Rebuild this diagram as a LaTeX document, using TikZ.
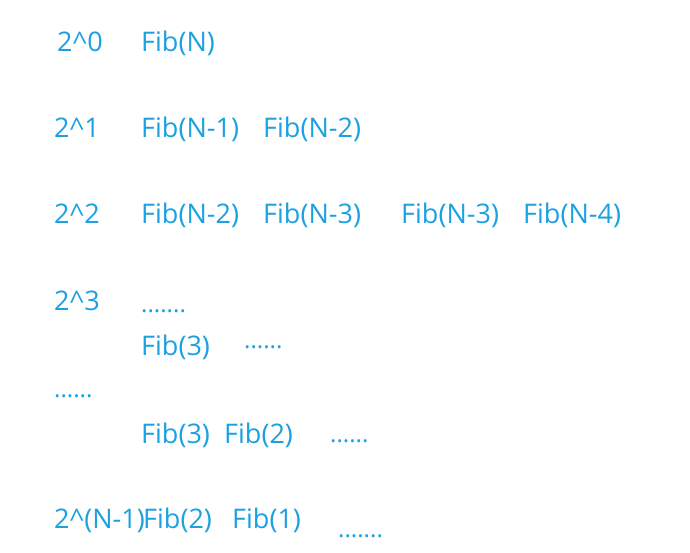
\documentclass[tikz,border=0pt]{standalone}
\usepackage{fontspec}
\setmainfont{Open Sans}
\definecolor{fibblue}{RGB}{27,161,226}

\begin{document}
\begin{tikzpicture}[x=1pt,y=-1pt,
		txt/.style={anchor=base west,inner sep=0pt,text=fibblue,font=\fontsize{27}{32}\selectfont},
		dots/.style={txt,font=\fontsize{24}{28}\selectfont}]
		\useasboundingbox[fill=white] (0,0) rectangle (690,552);
		% levels
		\node[txt] (l0) at (57,51) {2\^{}0};
		\node[txt] (l1) at (54,137) {2\^{}1};
		\node[txt] (l2) at (54,223) {2\^{}2};
		\node[txt] (l3) at (54,310) {2\^{}3};
		\node[dots] (ldots) at (54,397) {......};
		\node[txt] (ln) at (54,528) {2\^{}(N-1)};
		% calls
		\node[txt] (f0) at (141,51) {Fib(N)};
		\node[txt] (f1a) at (141,137) {Fib(N-1)};
		\node[txt] (f1b) at (263,137) {Fib(N-2)};
		\node[txt] (f2a) at (141,223) {Fib(N-2)};
		\node[txt] (f2b) at (263,223) {Fib(N-3)};
		\node[txt] (f2c) at (401,223) {Fib(N-3)};
		\node[txt] (f2d) at (523,223) {Fib(N-4)};
		\node[dots] (d3a) at (141,312) {.......};
		\node[txt] (f3) at (141,355) {Fib(3)};
		\node[dots] (d3b) at (244,348) {......};
		\node[txt] (f4a) at (141,443) {Fib(3)};
		\node[txt] (f4b) at (224,443) {Fib(2)};
		\node[dots] (d4) at (330,442) {......};
		\node[txt] (fna) at (143,528) {Fib(2)};
		\node[txt] (fnb) at (232,528) {Fib(1)};
		\node[dots] (dn) at (338,537) {.......};
		%\node[txt] at (400,528) {Fib(0)};
\end{tikzpicture}
\end{document}
